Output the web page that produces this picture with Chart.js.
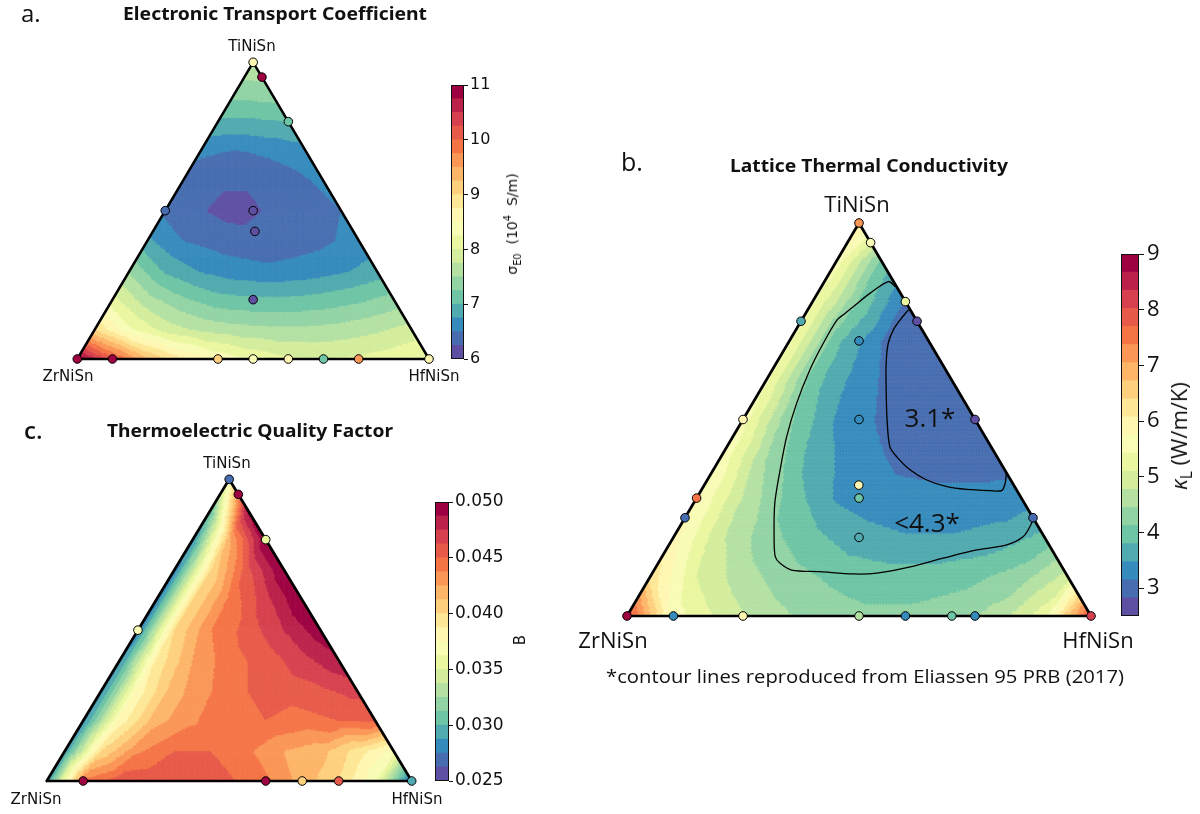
<!DOCTYPE html>
<html>
<head>
<meta charset="utf-8">
<script src="https://cdn.jsdelivr.net/npm/chart.js@4.4.1/dist/chart.umd.min.js"></script>
<style>
  html, body { margin: 0; padding: 0; background: #fff; }
  #page { position: relative; width: 1200px; height: 814px; overflow: hidden; background: #fff; }
  #page canvas { position: absolute; left: 0; top: 0; }
  .lbl { position: absolute; white-space: nowrap; color: #111; line-height: 1; }
  .lbl sub, .lbl sup { font-size: 70%; line-height: 0; }
</style>
</head>
<body>
<div id="page">
  <canvas id="triA" width="1200" height="814"></canvas>
  <canvas id="triB" width="1200" height="814"></canvas>
  <canvas id="triC" width="1200" height="814"></canvas>
  <canvas id="barA" width="1200" height="814"></canvas>
  <canvas id="barB" width="1200" height="814"></canvas>
  <canvas id="barC" width="1200" height="814"></canvas>
</div>
<script>
// ---------------------------------------------------------------------------
// Data
// Compositions are given as (TiNiSn fraction, HfNiSn fraction); ZrNiSn is the rest.
// Field grids: row i is TiNiSn = i/10, entry j is HfNiSn = j/10.
// ---------------------------------------------------------------------------

// corners of the composition triangle: TiNiSn, ZrNiSn, HfNiSn, back to start
const frameTi = [0, 1, 0, 0];
const frameHf = [0, 0, 1, 0];

// (a) electronic transport coefficient sigma_E0, 10^4 S/m
const sigmaRange = [6, 11];
const sigmaTicks = [6, 7, 8, 9, 10, 11];
const sigmaTickLabels = ['6', '7', '8', '9', '10', '11'];
const sigmaGrid = [
  [11.0, 10.1, 9.3, 8.8, 8.45, 8.2, 8.05, 8.0, 8.05, 8.15, 8.3],
  [9.0, 8.3, 7.9, 7.7, 7.6, 7.55, 7.55, 7.6, 7.7, 7.85],
  [8.1, 7.6, 7.3, 7.1, 7.05, 7.05, 7.1, 7.2, 7.35],
  [7.45, 6.95, 6.72, 6.6, 6.55, 6.6, 6.7, 6.85],
  [6.8, 6.5, 6.4, 6.35, 6.38, 6.45, 6.6],
  [6.45, 6.27, 6.15, 6.28, 6.35, 6.5],
  [6.4, 6.3, 6.3, 6.4, 6.55],
  [6.55, 6.48, 6.55, 6.65],
  [6.95, 6.95, 7.0],
  [7.35, 7.4],
  [7.7]
];
const sigmaSampleTi  = [1.0, 0.95, 0.8, 0.5, 0.5, 0.43, 0.2, 0.0, 0.0, 0.0, 0.0, 0.0, 0.0, 0.0, 0.0];
const sigmaSampleHf  = [0.0, 0.05, 0.2, 0.0, 0.25, 0.29, 0.4, 0.0, 0.1, 0.4, 0.5, 0.6, 0.7, 0.8, 1.0];
const sigmaSampleVal = [8.6, 10.9, 7.2, 6.45, 6.1, 6.15, 6.2, 11.0, 10.8, 9.0, 8.35, 8.6, 7.1, 9.6, 8.7];

// (b) lattice thermal conductivity kappa_L, W/m/K
const kappaRange = [2.5, 9];
const kappaTicks = [3, 4, 5, 6, 7, 8, 9];
const kappaTickLabels = ['3', '4', '5', '6', '7', '8', '9'];
const kappaGrid = [
  [8.0, 5.6, 5.0, 4.6, 4.35, 4.2, 4.2, 4.3, 4.6, 5.3, 8.0],
  [6.3, 5.1, 4.6, 4.25, 4.05, 3.95, 3.95, 4.05, 4.3, 4.9],
  [5.9, 4.85, 4.25, 3.9, 3.6, 3.5, 3.5, 3.6, 3.9],
  [5.8, 4.75, 4.0, 3.45, 3.3, 3.25, 3.25, 3.3],
  [5.7, 4.45, 3.65, 3.3, 3.05, 3.0, 3.0],
  [5.6, 4.2, 3.45, 3.1, 2.95, 2.9],
  [5.5, 3.95, 3.3, 2.95, 2.95],
  [5.5, 3.9, 3.15, 2.95],
  [5.5, 4.1, 3.1],
  [5.6, 4.0],
  [6.2]
];
const kappaSampleTi  = [1.0, 0.95, 0.8, 0.75, 0.5, 0.25, 0.75, 0.5, 0.3, 0.25,
                        0.0, 0.0, 0.0, 0.0, 0.0, 0.0, 0.0, 0.0,
                        0.7, 0.5, 0.333, 0.3, 0.2];
const kappaSampleHf  = [0.0, 0.05, 0.2, 0.25, 0.5, 0.75, 0.0, 0.0, 0.0, 0.0,
                        0.0, 0.1, 0.25, 0.5, 0.6, 0.7, 0.75, 1.0,
                        0.15, 0.25, 0.333, 0.35, 0.4];
const kappaSampleVal = [7.3, 5.6, 5.3, 2.65, 2.7, 3.0, 3.7, 5.9, 7.6, 3.0,
                        9.0, 3.3, 5.9, 4.6, 3.3, 4.1, 3.3, 8.3,
                        3.3, 3.3, 5.9, 4.0, 3.6];
// contour lines of Eliassen et al. (2017): kappa_L < 4.3 and 3.1 W/m/K
const kappaOuterTi = [0.838, 0.851, 0.821, 0.787, 0.770, 0.753, 0.694, 0.626, 0.541, 0.456, 0.372, 0.287, 0.202,
                      0.151, 0.134, 0.117, 0.113, 0.107, 0.109, 0.125, 0.147, 0.168, 0.181, 0.202, 0.236, 0.249];
const kappaOuterHf = [0.159, 0.138, 0.113, 0.094, 0.085, 0.076, 0.076, 0.081, 0.095, 0.116, 0.144, 0.175, 0.216,
                      0.244, 0.263, 0.296, 0.359, 0.434, 0.484, 0.548, 0.608, 0.670, 0.728, 0.753, 0.754, 0.750];
const kappaInnerTi = [0.779, 0.753, 0.728, 0.694, 0.643, 0.583, 0.499, 0.431, 0.405, 0.372, 0.346, 0.329, 0.322,
                      0.319, 0.319, 0.338, 0.363];
const kappaInnerHf = [0.217, 0.212, 0.210, 0.216, 0.237, 0.267, 0.311, 0.351, 0.379, 0.424, 0.473, 0.525, 0.571,
                      0.623, 0.648, 0.646, 0.636];

// (c) thermoelectric quality factor B
const qualityRange = [0.025, 0.05];
const qualityTicks = [0.025, 0.03, 0.035, 0.04, 0.045, 0.05];
const qualityTickLabels = ['0.025', '0.030', '0.035', '0.040', '0.045', '0.050'];
const qualityGrid = [
  [0.0285, 0.0440, 0.0458, 0.0460, 0.0458, 0.0452, 0.0440, 0.0420, 0.0400, 0.0365, 0.0270],
  [0.0285, 0.0400, 0.0435, 0.0450, 0.0450, 0.0440, 0.0425, 0.0418, 0.0395, 0.0370],
  [0.0280, 0.0380, 0.0420, 0.0435, 0.0450, 0.0450, 0.0445, 0.0450, 0.0452],
  [0.0280, 0.0380, 0.0420, 0.0437, 0.0450, 0.0455, 0.0460, 0.0467],
  [0.0280, 0.0390, 0.0425, 0.0445, 0.0455, 0.0470, 0.0485],
  [0.0275, 0.0400, 0.0437, 0.0455, 0.0475, 0.0495],
  [0.0275, 0.0400, 0.0440, 0.0470, 0.0500],
  [0.0275, 0.0400, 0.0458, 0.0500],
  [0.0280, 0.0420, 0.0500],
  [0.0300, 0.0490],
  [0.0370]
];
const qualitySampleTi  = [1.0, 0.95, 0.8, 0.5, 0.0, 0.0, 0.0, 0.0, 0.0];
const qualitySampleHf  = [0.0, 0.05, 0.2, 0.0, 0.1, 0.6, 0.7, 0.8, 1.0];
const qualitySampleVal = [0.0268, 0.0495, 0.0355, 0.0365, 0.0495, 0.0495, 0.0410, 0.0455, 0.0295];

// ---------------------------------------------------------------------------
// Colour map: 20-level reversed "Spectral"
// ---------------------------------------------------------------------------
const SPECTRAL = ['#9e0142', '#d53e4f', '#f46d43', '#fdae61', '#fee08b', '#ffffbf',
                  '#e6f598', '#abdda4', '#66c2a5', '#3288bd', '#5e4fa2'];
const N_LEVELS = 20;
function hexRgb(h) { return [1, 3, 5].map(k => parseInt(h.slice(k, k + 2), 16)); }
function spectralR(t) {
  const s = (1 - t) * 10;
  const i = Math.min(9, Math.floor(s));
  const u = s - i;
  const a = hexRgb(SPECTRAL[i]), b = hexRgb(SPECTRAL[i + 1]);
  const c = a.map((v, k) => Math.round(v + (b[k] - v) * u));
  return `rgb(${c[0]},${c[1]},${c[2]})`;
}
const LEVEL_COLORS = Array.from({ length: N_LEVELS }, (_, k) => spectralR(k / (N_LEVELS - 1)));
function levelOf(v, range) {
  const k = Math.floor((v - range[0]) / (range[1] - range[0]) * N_LEVELS);
  return Math.max(0, Math.min(N_LEVELS - 1, k));
}

// value of a field grid at a composition (piecewise-linear on the grid triangles)
function sampleGrid(g, ti, hf) {
  const n = g.length - 1;
  const a0 = ti * n, b0 = hf * n;
  const i = Math.max(0, Math.min(n, Math.floor(a0 + 1e-9)));
  const j = Math.max(0, Math.min(n - i, Math.floor(b0 + 1e-9)));
  const a = a0 - i, b = b0 - j;
  if (i + j >= n) return g[i][j];
  const v00 = g[i][j], v10 = g[i + 1][j], v01 = g[i][j + 1];
  if (a + b <= 1 || i + j + 2 > n) return v00 + a * (v10 - v00) + b * (v01 - v00);
  const v11 = g[i + 1][j + 1];
  return v11 + (1 - b) * (v10 - v11) + (1 - a) * (v01 - v11);
}

// composition -> cartesian value on the chart's x/y scales
const toXY = (ti, hf) => ({ x: hf + ti / 2, y: ti });

// filled contour map drawn as a fine triangular mesh through the chart scales
function fieldPlugin(grid, range) {
  return {
    id: 'ternaryField',
    beforeDatasetsDraw(chart) {
      const { ctx, scales: { x, y } } = chart;
      const M = 150;
      const P = (p, q) => [x.getPixelForValue(q / M + p / M / 2), y.getPixelForValue(p / M)];
      const cell = (v1, v2, v3, ti, hf) => {
        const col = LEVEL_COLORS[levelOf(sampleGrid(grid, ti, hf), range)];
        ctx.beginPath();
        ctx.moveTo(v1[0], v1[1]); ctx.lineTo(v2[0], v2[1]); ctx.lineTo(v3[0], v3[1]);
        ctx.closePath();
        ctx.fillStyle = col; ctx.strokeStyle = col;
        ctx.fill(); ctx.stroke();
      };
      ctx.save();
      ctx.lineWidth = 0.6;
      ctx.lineJoin = 'round';
      for (let p = 0; p < M; p++) {
        for (let q = 0; q < M - p; q++) {
          cell(P(p, q), P(p + 1, q), P(p, q + 1), (p + 1 / 3) / M, (q + 1 / 3) / M);
          if (p + q <= M - 2) {
            cell(P(p + 1, q), P(p, q + 1), P(p + 1, q + 1), (p + 2 / 3) / M, (q + 2 / 3) / M);
          }
        }
      }
      ctx.restore();
    }
  };
}

function ternaryChart(id, box, grid, range, samples, contours, style) {
  const datasets = [];
  datasets.push({
    data: samples.ti.map((t, k) => toXY(t, samples.hf[k])),
    pointBackgroundColor: samples.val.map(v => LEVEL_COLORS[levelOf(v, range)]),
    pointBorderColor: '#000', pointBorderWidth: 1,
    pointRadius: style.r, pointHoverRadius: style.r,
    showLine: false, order: 0, clip: false
  });
  contours.forEach(c => datasets.push({
    data: c.ti.map((t, k) => toXY(t, c.hf[k])),
    showLine: true, borderColor: '#000', borderWidth: 1.3, tension: 0.3,
    pointRadius: 0, order: 1, clip: false
  }));
  datasets.push({
    data: frameTi.map((t, k) => toXY(t, frameHf[k])),
    showLine: true, borderColor: '#000', borderWidth: style.lw,
    borderJoinStyle: 'round', borderCapStyle: 'round',
    pointRadius: 0, order: 2, clip: false
  });
  return new Chart(document.getElementById(id), {
    type: 'scatter',
    data: { datasets },
    options: {
      responsive: false, animation: false, events: [], devicePixelRatio: 1,
      layout: { padding: { left: box.left, top: box.top, right: 1200 - box.right, bottom: 814 - box.bottom } },
      scales: {
        x: { type: 'linear', min: 0, max: 1, display: false },
        y: { type: 'linear', min: 0, max: 1, display: false }
      },
      plugins: { legend: { display: false }, tooltip: { enabled: false } }
    },
    plugins: [fieldPlugin(grid, range)]
  });
}

// colour bar: one floating bar per level, value axis on the right
function colorbar(id, box, range, ticks, tickLabels, font, tickLen, pad) {
  const AXIS_W = 80;
  const step = (range[1] - range[0]) / N_LEVELS;
  const datasets = LEVEL_COLORS.map((c, k) => ({
    data: [[range[0] + k * step - (k > 0 ? step * 0.25 : 0), range[0] + (k + 1) * step]],
    backgroundColor: c, borderWidth: 0, barPercentage: 1, categoryPercentage: 1,
    grouped: false, clip: 0
  }));
  const outline = {
    id: 'cbOutline',
    afterDatasetsDraw(chart) {
      const a = chart.chartArea, ctx = chart.ctx;
      ctx.save();
      ctx.strokeStyle = '#111'; ctx.lineWidth = 1;
      ctx.strokeRect(Math.round(a.left) + 0.5, Math.round(a.top) + 0.5,
                     Math.round(a.right - a.left) - 1, Math.round(a.bottom - a.top) - 1);
      ctx.restore();
    }
  };
  return new Chart(document.getElementById(id), {
    type: 'bar',
    data: { labels: [''], datasets },
    options: {
      responsive: false, animation: false, events: [], devicePixelRatio: 1,
      layout: { padding: { left: box.left, top: box.top, right: 1200 - box.right - AXIS_W, bottom: 814 - box.bottom } },
      scales: {
        x: { display: false },
        y: {
          position: 'right', min: range[0], max: range[1],
          afterBuildTicks: s => { s.ticks = ticks.map(v => ({ value: v })); },
          afterFit: s => { s.width = AXIS_W; },
          ticks: {
            callback: (v, i) => tickLabels[i], color: '#111', font: font,
            padding: pad, autoSkip: false, maxRotation: 0
          },
          grid: { drawOnChartArea: false, drawTicks: true, tickLength: tickLen, color: '#111', lineWidth: 1 },
          border: { display: false }
        }
      },
      plugins: { legend: { display: false }, tooltip: { enabled: false } }
    },
    plugins: [outline]
  });
}

// ---------------------------------------------------------------------------
// Panels
// ---------------------------------------------------------------------------
ternaryChart('triA', { left: 77.3, right: 429, top: 62.3, bottom: 359 }, sigmaGrid, sigmaRange,
  { ti: sigmaSampleTi, hf: sigmaSampleHf, val: sigmaSampleVal }, [], { r: 4.3, lw: 2.5 });

ternaryChart('triB', { left: 627, right: 1091, top: 223, bottom: 616 }, kappaGrid, kappaRange,
  { ti: kappaSampleTi, hf: kappaSampleHf, val: kappaSampleVal },
  [{ ti: kappaOuterTi, hf: kappaOuterHf }, { ti: kappaInnerTi, hf: kappaInnerHf }], { r: 4.3, lw: 2.7 });

ternaryChart('triC', { left: 46.7, right: 411.7, top: 479.3, bottom: 781 }, qualityGrid, qualityRange,
  { ti: qualitySampleTi, hf: qualitySampleHf, val: qualitySampleVal }, [], { r: 4.3, lw: 2.7 });

colorbar('barA', { left: 451, right: 464, top: 85, bottom: 359 }, sigmaRange, sigmaTicks, sigmaTickLabels,
  { family: 'DejaVu Sans', size: 16 }, 4, 2);
colorbar('barB', { left: 1121, right: 1139, top: 254, bottom: 616 }, kappaRange, kappaTicks, kappaTickLabels,
  { family: 'Open Sans', size: 22 }, 5, 3);
colorbar('barC', { left: 435, right: 449, top: 502, bottom: 781 }, qualityRange, qualityTicks, qualityTickLabels,
  { family: 'DejaVu Sans', size: 17 }, 4, 2);

// ---------------------------------------------------------------------------
// Text
// ---------------------------------------------------------------------------
const TEXTS = [
  { html: 'a.', x: 21, y: 13, size: 24, font: '"Open Sans"', align: 'left' },
  { html: 'Electronic Transport Coefficient', x: 275, y: 13, size: 18, weight: 700, font: '"Noto Sans"', w: 304 },
  { html: 'TiNiSn', x: 252, y: 46, size: 15, font: '"DejaVu Sans"' },
  { html: 'ZrNiSn', x: 68, y: 376, size: 15, font: '"DejaVu Sans"' },
  { html: 'HfNiSn', x: 434, y: 376, size: 15, font: '"DejaVu Sans"' },
  { html: 'σ<sub>E0</sub>&nbsp; (10<sup>4</sup>&nbsp; S/m)', x: 512, y: 224, size: 14, font: '"DejaVu Sans"', rot: true },

  { html: 'b.', x: 621, y: 161, size: 25, font: '"Open Sans"', align: 'left' },
  { html: 'Lattice Thermal Conductivity', x: 869, y: 165, size: 18, weight: 700, font: '"Noto Sans"', w: 278 },
  { html: 'TiNiSn', x: 857, y: 203, size: 22, font: '"Open Sans"' },
  { html: 'ZrNiSn', x: 613, y: 639, size: 22, font: '"Open Sans"' },
  { html: 'HfNiSn', x: 1098, y: 639, size: 22, font: '"Open Sans"' },
  { html: '3.1*', x: 930, y: 417, size: 26, font: '"Open Sans"' },
  { html: '&lt;4.3*', x: 927, y: 522, size: 26, font: '"Open Sans"' },
  { html: '<i>κ</i><sub>L</sub> (W/m/K)', x: 1178, y: 436, size: 22, font: '"Open Sans"', rot: true },
  { html: '*contour lines reproduced from Eliassen 95 PRB (2017)', x: 865, y: 676, size: 19, font: '"Open Sans"', w: 518 },

  { html: 'c.', x: 24, y: 430, size: 24, weight: 600, font: '"Open Sans"', align: 'left' },
  { html: 'Thermoelectric Quality Factor', x: 250, y: 430, size: 18, weight: 700, font: '"Noto Sans"', w: 286 },
  { html: 'TiNiSn', x: 227, y: 463, size: 15, font: '"DejaVu Sans"' },
  { html: 'ZrNiSn', x: 36, y: 799, size: 15, font: '"DejaVu Sans"' },
  { html: 'HfNiSn', x: 417, y: 799, size: 15, font: '"DejaVu Sans"' },
  { html: 'B', x: 520, y: 640, size: 15, font: '"DejaVu Sans"', rot: true }
];

const page = document.getElementById('page');
TEXTS.forEach(t => {
  const d = document.createElement('div');
  d.className = 'lbl';
  d.innerHTML = t.html;
  d.style.fontFamily = t.font;
  d.style.fontSize = t.size + 'px';
  d.style.fontWeight = t.weight || 400;
  d.style.left = t.x + 'px';
  d.style.top = t.y + 'px';
  page.appendChild(d);
  let sx = 1;
  if (t.w) sx = t.w / d.getBoundingClientRect().width;
  if (t.rot) d.style.transform = 'translate(-50%,-50%) rotate(-90deg)';
  else if (t.align === 'left') d.style.transform = `translate(0,-50%) scaleX(${sx})`;
  else d.style.transform = `translate(-50%,-50%) scaleX(${sx})`;
});
</script>
</body>
</html>
